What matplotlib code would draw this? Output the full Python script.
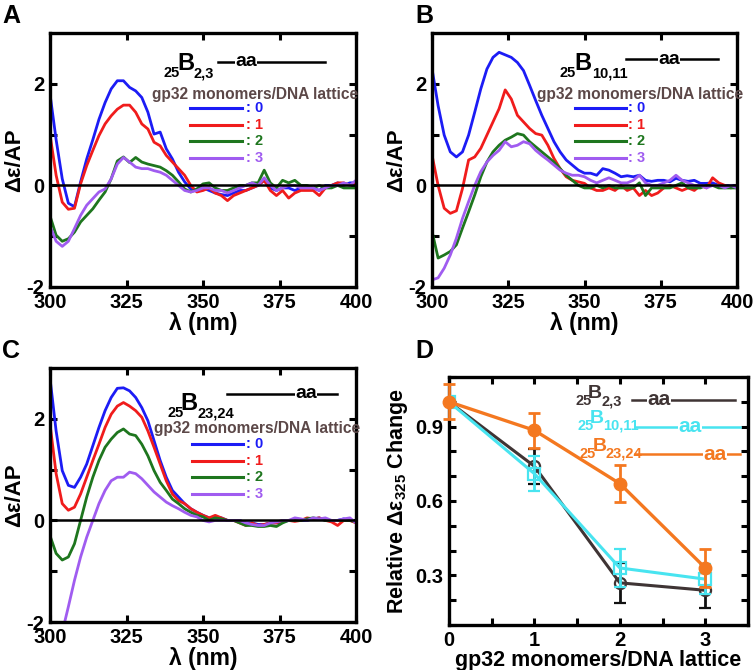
import numpy as np
import matplotlib
matplotlib.use('Agg')
import matplotlib.pyplot as plt
from matplotlib.lines import Line2D
from matplotlib.ticker import MultipleLocator, FixedLocator

plt.rcParams['font.family'] = ['Liberation Sans', 'DejaVu Sans']
plt.rcParams['font.weight'] = 'bold'
plt.rcParams['axes.unicode_minus'] = False
plt.rcParams['mathtext.fontset'] = 'custom'
plt.rcParams['mathtext.rm'] = 'Liberation Sans:bold'
plt.rcParams['mathtext.bf'] = 'Liberation Sans:bold'
plt.rcParams['mathtext.default'] = 'bf'

# ---------------- data ----------------
wavelength = np.arange(300, 401, 2)   # nm, 51 points
ratios = ['0', '1', '2', '3']

# tails 352..400 nm are read roughly (noise around zero)
a_0 = [1.8, 0.9, 0.13, -0.35, -0.42, 0.07, 0.52, 0.9, 1.3, 1.63, 1.9, 2.06, 2.06, 1.93,
       1.86, 1.73, 1.44, 1.01, 1.05, 0.72, 0.52, 0.26, 0.07, -0.07, -0.1, -0.05,
       -0.1, -0.15, -0.18, -0.2, -0.15, -0.1, -0.1, -0.05, 0.0, 0.1, -0.05, -0.1, -0.05,
       -0.05, -0.1, -0.05, -0.05, -0.05, -0.1, 0.0, 0.0, 0.05, 0.0, 0.05, 0.05]
a_1 = [1.0, 0.2, -0.33, -0.47, -0.45, 0.03, 0.39, 0.69, 0.98, 1.21, 1.37, 1.5, 1.58, 1.58,
       1.44, 1.21, 1.11, 0.85, 0.78, 0.59, 0.46, 0.33, 0.2, 0.0, -0.13, -0.1,
       -0.05, -0.15, -0.2, -0.3, -0.2, -0.15, -0.1, -0.05, 0.0, 0.1, -0.1, -0.2, -0.1,
       -0.25, -0.15, -0.1, -0.1, -0.1, -0.2, -0.05, 0.0, 0.05, 0.05, 0.0, 0.05]
a_2 = [-0.6, -0.98, -1.1, -1.05, -0.92, -0.72, -0.59, -0.46, -0.29, -0.13, 0.13, 0.48, 0.56,
       0.45, 0.55, 0.46, 0.42, 0.39, 0.36, 0.29, 0.2, 0.07, -0.07, -0.13, -0.07, 0.03,
       0.05, -0.05, -0.1, -0.1, -0.05, 0.0, 0.0, 0.05, 0.05, 0.3, 0.05, -0.05, 0.1,
       0.05, 0.1, 0.0, 0.0, -0.05, 0.0, -0.05, -0.05, 0.0, -0.05, -0.05, -0.05]
a_3 = [-0.8, -1.1, -1.2, -1.1, -0.85, -0.59, -0.39, -0.26, -0.13, -0.07, 0.13, 0.42, 0.55,
       0.46, 0.36, 0.33, 0.33, 0.29, 0.26, 0.2, 0.1, 0.0, -0.1, -0.13, -0.1, -0.05,
       -0.05, -0.1, -0.1, -0.15, -0.1, -0.05, 0.0, 0.05, 0.0, 0.15, 0.0, -0.1, -0.05,
       0.0, 0.0, -0.05, -0.05, -0.05, -0.1, -0.05, 0.0, 0.0, 0.05, 0.0, 0.1]

b_0 = [2.3, 1.57, 0.99, 0.66, 0.56, 0.66, 0.99, 1.44, 1.9, 2.29, 2.52, 2.62, 2.57, 2.52,
       2.42, 2.26, 1.97, 1.67, 1.38, 1.12, 0.86, 0.66, 0.5, 0.4, 0.3, 0.24,
       0.24, 0.2, 0.33, 0.3, 0.24, 0.17, 0.19, 0.17, 0.2, 0.1, 0.08, 0.1, 0.1,
       0.07, 0.14, 0.1, 0.08, 0.1, 0.04, 0.04, 0.05, 0.0, 0.0, 0.0, -0.02]
b_1 = [0.6, 0.0, -0.45, -0.55, -0.5, -0.06, 0.5, 0.56, 0.73, 0.99, 1.25, 1.51, 1.88, 1.7,
       1.38, 1.25, 1.12, 1.02, 0.99, 0.79, 0.53, 0.33, 0.17, 0.1, 0.07, 0.04,
       -0.05, -0.1, -0.1, -0.05, -0.1, 0.0, -0.1, -0.05, -0.2, -0.1, -0.2, -0.15, -0.05,
       0.0, -0.05, -0.1, -0.05, -0.1, 0.0, -0.05, 0.15, 0.05, 0.0, -0.05, 0.0]
b_2 = [-0.9, -1.43, -1.37, -1.3, -1.17, -0.84, -0.52, -0.19, 0.17, 0.46, 0.66, 0.79, 0.89,
       0.95, 1.02, 0.99, 0.86, 0.76, 0.66, 0.56, 0.46, 0.33, 0.2, 0.1, 0.0, -0.05,
       -0.05, 0.0, -0.05, 0.0, -0.05, -0.05, -0.05, -0.05, 0.05, -0.2, -0.05, -0.05, -0.05,
       -0.05, 0.0, 0.05, -0.05, -0.05, -0.05, 0.0, 0.0, -0.05, -0.05, -0.05, -0.05]
b_3 = [-1.86, -1.82, -1.63, -1.37, -1.04, -0.65, -0.32, 0.0, 0.27, 0.46, 0.59, 0.69, 0.86,
       0.76, 0.79, 0.86, 0.82, 0.69, 0.59, 0.5, 0.4, 0.3, 0.24, 0.2, 0.2, 0.17,
       0.1, 0.05, 0.1, 0.15, 0.1, 0.05, 0.05, 0.1, 0.2, 0.05, 0.0, 0.0, 0.05,
       0.1, 0.2, 0.1, 0.05, 0.0, 0.0, -0.05, 0.0, 0.0, -0.05, 0.0, -0.05]

c_0 = [2.8, 1.76, 0.98, 0.69, 0.65, 0.85, 1.11, 1.47, 1.83, 2.16, 2.42, 2.6, 2.61, 2.55,
       2.42, 2.22, 1.96, 1.57, 1.18, 0.85, 0.59, 0.46, 0.33, 0.23, 0.16, 0.1,
       0.05, 0.05, 0.05, 0.0, 0.0, 0.0, -0.05, -0.05, -0.08, -0.08, -0.05, -0.05, -0.03,
       0.0, 0.0, 0.0, 0.0, 0.03, 0.05, 0.0, 0.0, 0.0, 0.03, 0.0, -0.03]
c_1 = [1.9, 0.92, 0.33, 0.2, 0.26, 0.52, 0.85, 1.18, 1.5, 1.83, 2.09, 2.25, 2.32, 2.25,
       2.16, 2.03, 1.76, 1.44, 1.11, 0.78, 0.52, 0.39, 0.33, 0.23, 0.16, 0.1,
       0.05, 0.1, 0.05, 0.0, 0.0, -0.05, -0.1, -0.05, -0.1, -0.08, -0.05, -0.05, 0.0,
       0.0, -0.02, 0.0, 0.05, 0.03, 0.05, 0.0, -0.03, -0.1, 0.0, 0.0, -0.05]
c_2 = [-0.3, -0.65, -0.78, -0.72, -0.46, 0.0, 0.46, 0.85, 1.18, 1.44, 1.6, 1.73, 1.8,
       1.7, 1.67, 1.5, 1.27, 0.98, 0.75, 0.59, 0.42, 0.33, 0.23, 0.16, 0.1, 0.07,
       0.0, 0.05, 0.03, 0.0, 0.0, -0.05, -0.1, -0.1, -0.12, -0.12, -0.1, -0.12, -0.05,
       0.0, 0.0, 0.0, 0.03, 0.05, 0.03, 0.0, 0.0, 0.0, 0.0, 0.0, -0.03]
c_3 = [-2.6, -2.4, -2.2, -1.7, -1.18, -0.72, -0.33, 0.0, 0.33, 0.59, 0.78, 0.85, 0.85,
       0.95, 0.92, 0.82, 0.69, 0.56, 0.46, 0.36, 0.29, 0.23, 0.16, 0.1, 0.07, 0.0,
       -0.03, 0.0, 0.0, 0.0, 0.0, 0.0, -0.05, -0.08, -0.1, -0.1, -0.05, -0.03, 0.0,
       0.0, 0.05, 0.03, 0.0, 0.05, 0.03, 0.05, 0.0, 0.0, 0.03, 0.05, -0.05]

# panel D: relative change at 325 nm
gp32_ratio = [0, 1, 2, 3]
rel_23 = [1.0, 0.74, 0.27, 0.24]
err_23 = [0.0, 0.07, 0.08, 0.07]
rel_1011 = [1.0, 0.71, 0.33, 0.285]
err_1011 = [0.0, 0.07, 0.075, 0.06]
rel_2324 = [1.0, 0.885, 0.67, 0.33]
err_2324 = [0.07, 0.07, 0.075, 0.075]

# ---------------- style ----------------
W, H = 756, 670
line_cols = ['#1c1cf5', '#f01c1c', '#1e761e', '#a05cf0']
hdr_col = '#5c4848'
d_black, d_cyan, d_orange = '#3f3434', '#48e4f0', '#f47820'

fig = plt.figure(figsize=(W / 100, H / 100), dpi=100)


def px(x, y):
    return x / W, 1 - y / H


def ptext(x, y, s, **kw):
    fig.text(*px(x, y), s, **kw)


def pline(x0, x1, y, color, lw=1.8):
    fig.add_artist(Line2D([x0 / W, x1 / W], [1 - y / H, 1 - y / H],
                          color=color, lw=lw, transform=fig.transFigure))


def style_axes(ax):
    for sp in ax.spines.values():
        sp.set_linewidth(2.4)
    ax.tick_params(which='both', direction='in', top=True, right=True,
                   length=5, width=2.2, labelsize=14.5, pad=4)
    for lab in ax.get_xticklabels() + ax.get_yticklabels():
        lab.set_fontweight('bold')


def spectrum_panel(rect, series):
    ax = fig.add_axes(rect)
    for vals, col in zip(series, line_cols):
        ax.plot(wavelength, vals, color=col, lw=2.0)
    ax.axhline(0, color='black', lw=1.8)
    ax.set_xlim(300, 400)
    ax.set_ylim(-2, 3)
    ax.set_xticks([300, 325, 350, 375, 400])
    ax.set_yticks([-2, 0, 2])
    ax.yaxis.set_minor_locator(FixedLocator([-1, 1]))
    ax.set_xlabel('λ (nm)', fontsize=16.5, fontweight='bold', labelpad=0)
    ax.set_ylabel('Δε/AP', fontsize=16, fontweight='bold', labelpad=1)
    style_axes(ax)
    return ax


def title_block(x25, yb, xB, xsub, sub, x_line0, x_line1, y_line, x_aa, col='black',
                bsize=17, subsize=10.5, aasize=14):
    ptext(x25, yb + 7, '25', fontsize=subsize, color=col, fontweight='bold', va='baseline')
    ptext(xB, yb, 'B', fontsize=bsize, color=col, fontweight='bold', va='baseline')
    ptext(xsub, yb + 7, sub, fontsize=subsize, color=col, fontweight='bold', va='baseline')
    pline(x_line0, x_line1, y_line, col)
    ptext(x_aa, y_line, 'aa', fontsize=aasize, color=col, fontweight='bold', va='center',
          bbox=dict(facecolor='white', edgecolor='none', pad=0.3))


def legend_block(x_hdr, y_hdr, x_l0, x_l1, x_lab, y0, dy=16.7):
    ptext(x_hdr, y_hdr, 'gp32 monomers/DNA lattice', fontsize=11.2, color=hdr_col,
          fontweight='bold', va='center')
    for i, (r, col) in enumerate(zip(ratios, line_cols)):
        y = y0 + i * dy
        pline(x_l0, x_l1, y, col, lw=2.2)
        ptext(x_lab, y, ': ' + r, fontsize=10.5, color=col, fontweight='bold', va='center')


# ---------------- panels A-C ----------------
spectrum_panel([50 / W, 1 - 287 / H, 306 / W, 254 / H], [a_0, a_1, a_2, a_3])
title_block(163, 70, 177, 193, '2,3', 218, 325, 62, 235)
legend_block(152, 94, 190, 242, 246, 108)

spectrum_panel([432 / W, 1 - 287 / H, 305 / W, 254 / H], [b_0, b_1, b_2, b_3])
title_block(560, 70, 574, 592, '10,11', 626, 718, 59, 658)
legend_block(537, 94, 575, 626, 628, 108)

spectrum_panel([50 / W, 1 - 622 / H, 306 / W, 254 / H], [c_0, c_1, c_2, c_3])
title_block(167, 410, 180, 198, '23,24', 227, 337, 394, 295)
legend_block(154, 429, 192, 243, 246, 444)

# ---------------- panel D ----------------
axd = fig.add_axes([449 / W, 1 - 625 / H, 299 / W, 248 / H])
axd.plot(gp32_ratio, rel_23, color=d_black, lw=2.2, zorder=2)
axd.errorbar(gp32_ratio, rel_23, yerr=err_23, fmt='o', ms=8, mfc='none', mec=d_black,
             mew=1.6, ecolor='#111111', elinewidth=2, capsize=4, capthick=2, zorder=3)
axd.plot(gp32_ratio, rel_1011, color=d_cyan, lw=2.2, zorder=4)
axd.errorbar(gp32_ratio, rel_1011, yerr=err_1011, fmt='s', ms=8, mfc='none', mec=d_cyan,
             mew=1.6, ecolor=d_cyan, elinewidth=2, capsize=4, capthick=2, zorder=5)
axd.plot(gp32_ratio, rel_2324, color=d_orange, lw=2.4, zorder=6)
axd.errorbar(gp32_ratio, rel_2324, yerr=err_2324, fmt='o', ms=9, mfc=d_orange, mec=d_orange,
             ecolor=d_orange, elinewidth=2, capsize=4, capthick=2, zorder=7, clip_on=False)
axd.set_xlim(0, 3.5)
axd.set_ylim(0.1, 1.1)
axd.set_xticks([0, 1, 2, 3])
axd.xaxis.set_minor_locator(FixedLocator([0.5, 1.5, 2.5]))
axd.set_yticks([0.3, 0.6, 0.9])
axd.yaxis.set_minor_locator(MultipleLocator(0.1))
axd.set_xlabel('gp32 monomers/DNA lattice', fontsize=15.5, fontweight='bold', labelpad=0)
axd.set_ylabel('Relative Δε$_{325}$ Change', fontsize=15.5, fontweight='bold', labelpad=4)
style_axes(axd)

title_block(575, 398, 588, 602, '2,3', 632, 735, 400, 647, col=d_black,
            bsize=14, subsize=10.5, aasize=15)
title_block(577, 423, 590, 603, '10,11', 635, 740, 427, 678, col=d_cyan,
            bsize=14, subsize=10.5, aasize=15)
title_block(580, 451, 593, 606, '23,24', 635, 740, 454, 703, col=d_orange,
            bsize=14, subsize=10.5, aasize=15)

# ---------------- panel letters ----------------
for letter, (lx, ly) in zip('ABCD', [(2, 23), (415, 23), (2, 358), (415, 358)]):
    ptext(lx, ly, letter, fontsize=18, fontweight='bold', va='baseline')

fig.savefig('out.png', dpi=100)
